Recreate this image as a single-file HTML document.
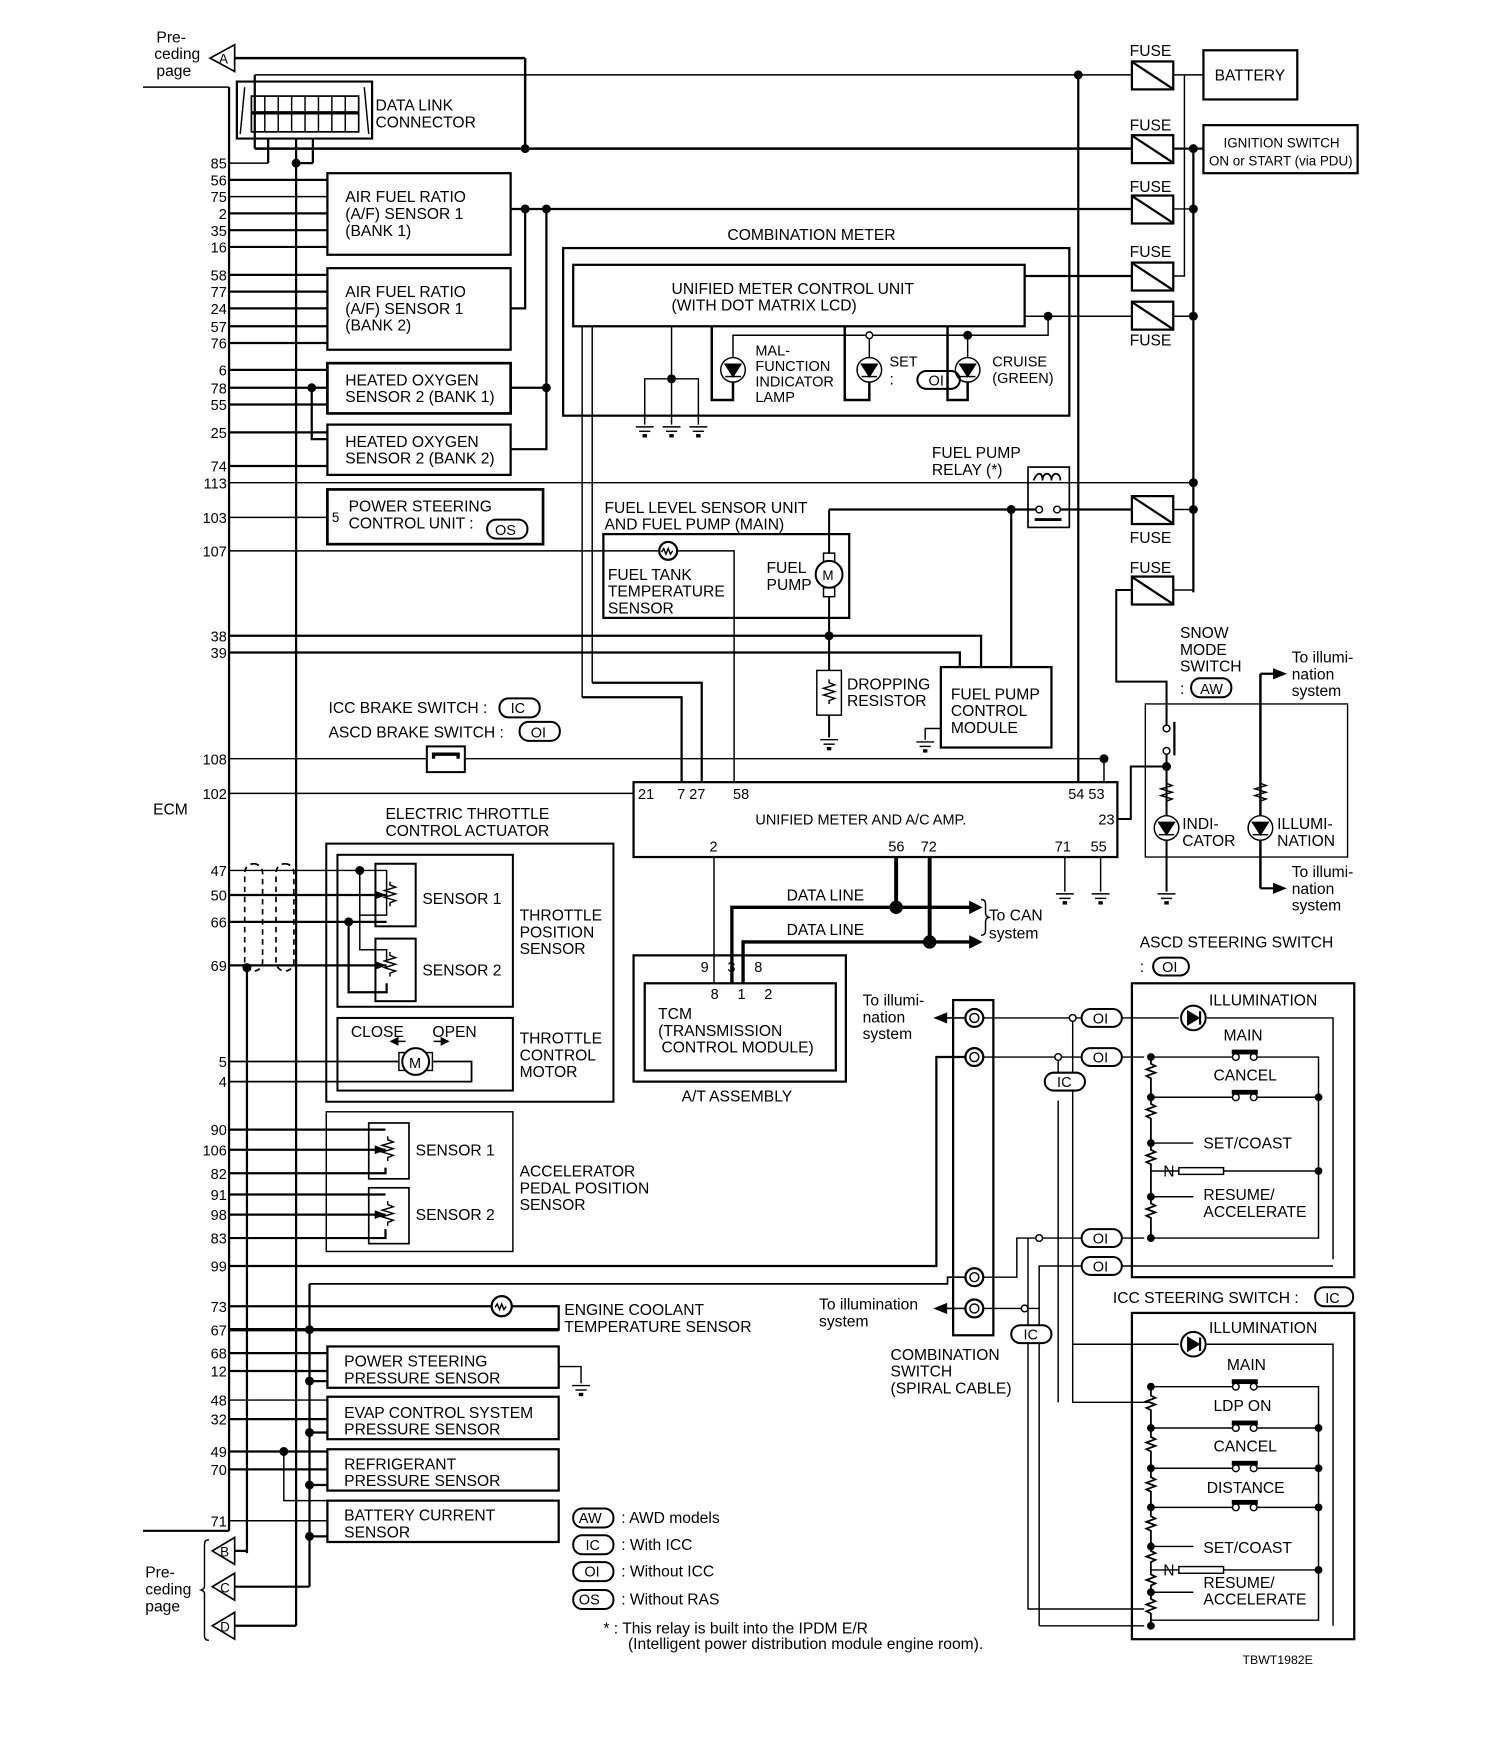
<!DOCTYPE html>
<html><head><meta charset="utf-8"><style>
html,body{margin:0;padding:0;background:#fff}
svg{display:block}
text{font-family:"Liberation Sans",sans-serif;fill:#000}
</style></head><body>
<svg width="1504" height="1742" viewBox="0 0 1346 1559" preserveAspectRatio="none" xmlns="http://www.w3.org/2000/svg">
<defs>
<g id="fuse"><rect x="0" y="0" width="37" height="25" fill="#fff" stroke="#000" stroke-width="2"/><line x1="1" y1="1" x2="36" y2="24" stroke="#000" stroke-width="2"/></g>
<g id="gnd"><line x1="-8" y1="0" x2="8" y2="0"/><line x1="-5" y1="4" x2="5" y2="4"/><line x1="-2" y1="8" x2="2" y2="8" stroke-width="3"/></g>
<g id="led"><circle r="11" fill="#fff"/><path d="M-7,-5 L7,-5 L0,6 Z" fill="#000"/><line x1="-7" y1="6" x2="7" y2="6"/></g>
<g id="res"><path d="M0,-12 l0,3 l5,2 l-10,3 l10,3 l-10,3 l10,3 l-5,2 l0,3" fill="none"/></g>
<g id="conn"><circle r="8" fill="#fff" stroke-width="2"/><circle r="4" fill="none"/></g>
</defs>
<g stroke="#000" stroke-width="1.3" fill="none" font-size="14">

<line x1="205" y1="78" x2="205" y2="1370" stroke-width="2"/>
<line x1="128" y1="78" x2="205" y2="78"/>
<line x1="128" y1="1370" x2="205" y2="1370" stroke-width="2"/>

<path d="M210,40 L188,52 L210,64 Z" stroke-width="1.5"/>
<line x1="210" y1="52" x2="470" y2="52" stroke-width="2.2"/>
<line x1="470" y1="52" x2="470" y2="133" stroke-width="2.2"/>

<path d="M212,73 L333,73 L333,124 L212,124 Z" stroke-width="2"/>
<line x1="219" y1="78" x2="215" y2="120"/><line x1="326" y1="78" x2="330" y2="120"/>
<rect x="225" y="86" width="96" height="32" stroke-width="1.5"/>
<line x1="225" y1="101" x2="321" y2="101" stroke-width="3"/>
<path d="M237,86 V118 M249,86 V118 M261,86 V118 M273,86 V118 M285,86 V118 M297,86 V118 M309,86 V118"/>
<line x1="228" y1="67" x2="1013" y2="67"/>
<line x1="228" y1="67" x2="228" y2="133" stroke-width="2"/>
<line x1="228" y1="133" x2="1013" y2="133" stroke-width="2.2"/>
<line x1="240" y1="124" x2="240" y2="146" stroke-width="2"/>
<line x1="205" y1="146" x2="240" y2="146"/>
<line x1="280" y1="124" x2="280" y2="146" stroke-width="2"/><line x1="265" y1="146" x2="280" y2="146" stroke-width="2"/>
<line x1="265" y1="124" x2="265" y2="1455" stroke-width="2"/>

<g stroke-width="2">
<path d="M205,161H293 M205,191H293 M205,206H293 M205,221H293 M205,246H293 M205,261H293 M205,276H293 M205,292H293 M205,307H293 M205,331H293 M205,347H293 M205,362H293 M205,387H293 M205,417H293"/>
</g>
<line x1="205" y1="176" x2="293" y2="176"/>
<path d="M279,347 V393 H293" stroke-width="2"/>
<line x1="205" y1="432" x2="1068" y2="432"/>
<line x1="205" y1="463" x2="293" y2="463"/>

<rect x="293" y="155" width="164" height="73" stroke-width="2"/>
<rect x="293" y="240" width="164" height="73" stroke-width="2"/>
<rect x="293" y="325" width="164" height="45" stroke-width="2.4"/>
<rect x="293" y="380" width="164" height="45" stroke-width="2"/>
<rect x="293" y="438" width="193" height="49" stroke-width="2.4"/>
<path d="M457,187 H1013 M470,187 V276 H457 M489,187 V402 H457 M457,347 H489" stroke-width="2"/>

<!-- combination meter -->
<rect x="504" y="222" width="453" height="150" stroke-width="2"/>
<rect x="513" y="237" width="404" height="55" stroke-width="2"/>
<path d="M917,247 H1013" stroke-width="2"/>
<path d="M917,283 H1013" />
<path d="M938,283 V300 H656 V320" />
<path d="M778,300 V320 M866,300 V320"/>
<path d="M637,292 V358 H656 V342" stroke-width="2.2"/>
<path d="M756,292 V358 H778 V342" stroke-width="2.2"/>
<path d="M848,292 V358 H866 V342" stroke-width="2.2"/>
<path d="M601,292 V380 M577,380 V339 H625 V380"/>
<use href="#gnd" x="577" y="382"/><use href="#gnd" x="601" y="382"/><use href="#gnd" x="625" y="382"/>
<line x1="521" y1="292" x2="521" y2="624"/><line x1="530" y1="292" x2="530" y2="611"/>
<use href="#led" x="656" y="331"/><use href="#led" x="778" y="331"/><use href="#led" x="866" y="331"/>

<line x1="965" y1="67" x2="965" y2="700" stroke-width="2"/>
<line x1="1068" y1="133" x2="1068" y2="530" stroke-width="2"/>
<line x1="1050" y1="67" x2="1077" y2="67"/>
<line x1="1050" y1="133" x2="1077" y2="133" stroke-width="2"/>
<path d="M1050,187 H1068 M1050,283 H1068 M1050,456 H1068 M1050,528 H1068 V530"/>
<path d="M1050,247 H1060 V67"/>
<use href="#fuse" x="1013" y="55"/><use href="#fuse" x="1013" y="121"/><use href="#fuse" x="1013" y="175"/><use href="#fuse" x="1013" y="235"/><use href="#fuse" x="1013" y="270"/><use href="#fuse" x="1013" y="444"/><use href="#fuse" x="1013" y="516"/>
<rect x="1077" y="45" width="84" height="44" stroke-width="2"/>
<rect x="1077" y="112" width="138" height="43" stroke-width="2"/>

<rect x="920" y="418" width="37" height="54" stroke-width="1.5"/>
<path d="M925,430 c3,-8 8,-8 8,0 c0,-8 8,-8 8,0 c0,-8 8,-8 8,0" stroke-width="1.5"/>
<path d="M742,456 H930 M946,456 H1013" stroke-width="2"/>
<circle cx="930" cy="456" r="3" fill="#fff"/><circle cx="946" cy="456" r="3" fill="#fff"/>
<line x1="926" y1="465" x2="950" y2="465" stroke-width="2.5"/>
<line x1="905" y1="456" x2="905" y2="597" stroke-width="2"/>

<rect x="540" y="478" width="220" height="75" stroke-width="2"/>
<path d="M205,493 H657 V700"/>
<circle cx="598" cy="493" r="8" fill="#fff" stroke-width="2"/>
<path d="M592,494 l2,-3 l2,5 l2,-5 l2,5 l2,-3"/>
<line x1="742" y1="456" x2="742" y2="660" stroke-width="1.8"/>
<rect x="737" y="495" width="10" height="8" fill="#fff"/><rect x="737" y="526" width="10" height="8" fill="#fff"/>
<circle cx="742" cy="514" r="12" fill="#fff" stroke-width="1.8"/>
<rect x="731" y="600" width="22" height="40" fill="#fff"/>
<use href="#res" x="742" y="620"/>
<use href="#gnd" x="742" y="662"/>
<path d="M205,569 H878 V597 M205,584 H859 V597" stroke-width="2"/>
<rect x="842" y="597" width="99" height="72" stroke-width="2"/>
<path d="M842,652 H828 V662"/><use href="#gnd" x="828" y="664"/>
<path d="M521,624 H610 V700 M530,611 H628 V700" stroke-width="2"/>

<line x1="205" y1="679" x2="988" y2="679"/>
<rect x="382" y="668" width="34" height="23" fill="#fff" stroke-width="1.8"/>
<path d="M388,679 V675 H410 V679" stroke-width="3"/>
<line x1="205" y1="710" x2="567" y2="710"/>
<line x1="988" y1="679" x2="988" y2="700"/>

<rect x="567" y="700" width="433" height="67" stroke-width="2"/>
<path d="M1000,733 H1012 V686 H1044" stroke-width="1.8"/>
<path d="M953,767 V798 M985,767 V798"/>
<use href="#gnd" x="953" y="800"/><use href="#gnd" x="985" y="800"/>
<line x1="639" y1="767" x2="639" y2="880"/>
<path d="M802,767 V812 M832,767 V843" stroke-width="3.5"/>
<path d="M655,880 V812 H868 M665,880 V843 H868" stroke-width="3"/>
<path d="M868,807 L878,812 L868,817 Z M868,838 L878,843 L868,848 Z" fill="#000"/>
<path d="M878,805 q4,0 4,4 v8 q0,3 3,4 q-3,1 -3,4 v8 q0,4 -4,4"/>

<rect x="567" y="855" width="190" height="113" stroke-width="2"/>
<rect x="577" y="880" width="171" height="78" stroke-width="2"/>

<path d="M1013,528 H999 V610 H1044 V650" stroke-width="1.8"/>
<rect x="1025" y="630" width="181" height="137" stroke-width="1.2"/>
<circle cx="1044" cy="652" r="3" fill="#fff"/><circle cx="1044" cy="672" r="3" fill="#fff"/>
<line x1="1051" y1="646" x2="1051" y2="676" stroke-width="2"/>
<path d="M1044,675 V730 M1044,752 V798" stroke-width="1.8"/>
<use href="#res" x="1044" y="710"/>
<use href="#led" x="1044" y="741"/>
<use href="#gnd" x="1044" y="800"/>
<path d="M1128,603 V730 M1128,752 V795" stroke-width="2.2"/>
<use href="#res" x="1128" y="710"/>
<use href="#led" x="1128" y="741"/>
<path d="M1128,603 H1142 M1128,795 H1142" stroke-width="2"/>
<path d="M1140,599 L1150,603 L1140,607 Z M1140,791 L1150,795 L1140,799 Z" fill="#000"/>

<rect x="292" y="755" width="257" height="231" stroke-width="1.8"/>
<rect x="302" y="765" width="157" height="136" stroke-width="1.8"/>
<rect x="302" y="911" width="157" height="65" stroke-width="1.8"/>
<rect x="336" y="773" width="36" height="56" stroke-width="1.8"/>
<rect x="336" y="840" width="36" height="56" stroke-width="1.8"/>
<path d="M205,779 H346 V819 H322 V779" />
<path d="M322,779 V850 H346 V860"/>
<path d="M205,801 H346" stroke-width="2"/>
<path d="M205,825 H346 M312,825 V888 H346 V880" stroke-width="2"/>
<path d="M205,864 H346" stroke-width="2"/>
<use href="#res" x="349" y="801"/><use href="#res" x="349" y="864"/>
<path d="M336,798 l8,3 l-8,3 Z M336,861 l8,3 l-8,3Z" fill="#000"/>
<rect x="219" y="773" width="16" height="96" rx="8" stroke-dasharray="5,4" stroke-width="1.5"/>
<rect x="247" y="773" width="16" height="96" rx="8" stroke-dasharray="5,4" stroke-width="1.5"/>
<line x1="221" y1="866" x2="221" y2="1390" stroke-width="2"/>
<path d="M205,950 H357 M387,950 H422 V968 H205" stroke-width="1.6"/>
<rect x="357" y="942" width="30" height="16" fill="#fff"/>
<circle cx="372" cy="950" r="12" fill="#fff" stroke-width="1.8"/>
<path d="M353,932 h10 M388,932 h10"/><path d="M350,932 l6,-3 v6Z M401,932 l-6,-3 v6Z" fill="#000"/>

<rect x="292" y="995" width="167" height="125"/>
<rect x="330" y="1005" width="36" height="50" stroke-width="1.5"/>
<rect x="330" y="1063" width="36" height="50" stroke-width="1.5"/>
<path d="M205,1011 H345 M205,1029 H345 M205,1050 H345 V1045 M205,1069 H345 M205,1087 H345 M205,1108 H345 V1100" stroke-width="2"/>
<use href="#res" x="347" y="1029"/><use href="#res" x="347" y="1087"/>
<path d="M336,1026 l8,3 l-8,3Z M336,1084 l8,3 l-8,3Z" fill="#000"/>

<path d="M205,1133 H838 V946 H864" stroke-width="2"/>
<path d="M277,1149 H848 V1143 H864" stroke-width="1.5"/>
<line x1="277" y1="1149" x2="277" y2="1420" stroke-width="2"/>
<path d="M205,1169 H440 M458,1169 H500 V1190 H205" stroke-width="2"/>
<line x1="205" y1="1190" x2="500" y2="1190" stroke-width="3"/>
<circle cx="449" cy="1169" r="9" fill="#fff" stroke-width="2"/>
<path d="M443,1170 l2,-3 l2,5 l2,-5 l2,5 l2,-3"/>
<path d="M205,1211 H293 M205,1227 H293 M205,1270 H293 M205,1299 H293 M205,1315 H293" stroke-width="2"/>
<path d="M205,1253 H293 M205,1361 H293"/>
<path d="M277,1236 H293 M277,1282 H293 M277,1329 H293 M277,1375 H293" stroke-width="2"/>
<path d="M254,1299 V1343 H293"/>
<rect x="293" y="1205" width="207" height="37" stroke-width="2"/>
<rect x="293" y="1250" width="207" height="38" stroke-width="2"/>
<rect x="293" y="1297" width="207" height="37" stroke-width="2"/>
<rect x="293" y="1343" width="207" height="37" stroke-width="2"/>
<path d="M500,1223 H520 V1238"/><use href="#gnd" x="520" y="1240"/>

<path d="M210,1376 L190,1388 L210,1400 Z M210,1408 L190,1420 L210,1432 Z M210,1443 L190,1455 L210,1467 Z" stroke-width="1.5"/>
<path d="M210,1388 H221 M210,1420 H277 M210,1455 H265" stroke-width="2"/>
<path d="M187,1378 q-4,0 -4,4 v38 q0,2 -3,3 q3,1 3,3 v38 q0,4 4,4"/>

<rect x="853" y="895" width="36" height="300" stroke-width="2"/>
<use href="#conn" x="872" y="911"/><use href="#conn" x="872" y="946"/><use href="#conn" x="872" y="1143"/><use href="#conn" x="872" y="1171"/>
<path d="M864,911 H845 M864,1171 H845" stroke-width="1.5"/>
<path d="M847,907 L837,911 L847,915 Z M847,1167 L837,1171 L847,1175 Z" fill="#000"/>
<path d="M880,911 H968 M1004,911 H1055 M1080,911 H1193 V1127 M880,946 H968 M1004,946 H1024 M880,1143 H910 V1108 H968 M1004,1108 H1024 M880,1171 H930 V1133 H968 M1004,1133 H1193 M930,1171 V1455 M1024,1455 H930"/>
<path d="M960,911 V1255 H1030 M947,946 V975 M947,985 V1255 M920,1108 V1187 M920,1200 V1440 H1024"/>
<rect x="968" y="903" width="36" height="16" rx="8" stroke-width="1.8" fill="#fff"/>
<rect x="968" y="938" width="36" height="16" rx="8" stroke-width="1.8" fill="#fff"/>
<rect x="968" y="1100" width="36" height="16" rx="8" stroke-width="1.8" fill="#fff"/>
<rect x="968" y="1125" width="36" height="16" rx="8" stroke-width="1.8" fill="#fff"/>
<rect x="935" y="960" width="36" height="16" rx="8" stroke-width="1.8" fill="#fff"/>
<rect x="905" y="1186" width="36" height="16" rx="8" stroke-width="1.8" fill="#fff"/>
<circle cx="960" cy="911" r="3" fill="#fff"/><circle cx="947" cy="946" r="3" fill="#fff"/><circle cx="930" cy="1108" r="3" fill="#fff"/><circle cx="917" cy="1171" r="3" fill="#fff"/>

<rect x="1013" y="880" width="199" height="263" stroke-width="2"/>
<circle cx="1068" cy="911" r="11" fill="#fff" stroke-width="1.8"/><path d="M1063,905 V917 L1073,911 Z" fill="#000"/><line x1="1074" y1="905" x2="1074" y2="917" stroke-width="2"/>
<path d="M1030,946 H1103 M1125,946 H1180 V1108 H1030 M1030,982 H1103 M1125,982 H1180 M1030,1023 H1068 M1030,1048 H1055 M1095,1048 H1180 M1030,1071 H1068"/>
<path d="M1030,946 l0,6 l4,2 l-8,3 l8,3 l-8,3 l4,2 V982 l0,6 l4,2 l-8,3 l8,3 l-8,3 l4,2 V1023 l0,6 l4,2 l-8,3 l8,3 l-8,3 l4,2 V1071 l0,6 l4,2 l-8,3 l8,3 l-8,3 l4,2 V1108" stroke-width="1.6"/>
<rect x="1103" y="940" width="22" height="3" fill="#000"/><rect x="1103" y="976" width="22" height="3" fill="#000"/>
<circle cx="1106" cy="946" r="3" fill="#fff"/><circle cx="1122" cy="946" r="3" fill="#fff"/><circle cx="1106" cy="982" r="3" fill="#fff"/><circle cx="1122" cy="982" r="3" fill="#fff"/>
<rect x="1055" y="1045" width="40" height="6" fill="#fff"/>

<rect x="1013" y="1175" width="199" height="292" stroke-width="2"/>
<circle cx="1068" cy="1203" r="11" fill="#fff" stroke-width="1.8"/><path d="M1063,1197 V1209 L1073,1203 Z" fill="#000"/><line x1="1074" y1="1197" x2="1074" y2="1209" stroke-width="2"/>
<path d="M960,1203 H1055 M1080,1203 H1193 V1455"/>
<path d="M1030,1241 H1103 M1125,1241 H1180 V1450 H1030 M1030,1278 H1103 M1125,1278 H1180 M1030,1314 H1103 M1125,1314 H1180 M1030,1349 H1103 M1125,1349 H1180 M1030,1384 H1068 M1030,1405 H1055 M1095,1405 H1180 M1030,1425 H1068"/>
<path d="M1030,1241 l0,8 l4,2 l-8,3 l8,3 l-8,3 l4,2 V1278 l0,8 l4,2 l-8,3 l8,3 l-8,3 l4,2 V1314 l0,8 l4,2 l-8,3 l8,3 l-8,3 l4,2 V1349 l0,8 l4,2 l-8,3 l8,3 l-8,3 l4,2 V1384 l0,4 l4,2 l-8,3 l8,3 l-4,2 V1405 l0,4 l4,2 l-8,3 l8,3 l-4,2 V1425 l0,6 l4,2 l-8,3 l8,3 l-8,3 l4,2 V1455" stroke-width="1.6"/>
<rect x="1103" y="1235" width="22" height="3" fill="#000"/><rect x="1103" y="1272" width="22" height="3" fill="#000"/><rect x="1103" y="1308" width="22" height="3" fill="#000"/><rect x="1103" y="1343" width="22" height="3" fill="#000"/>
<circle cx="1106" cy="1241" r="3" fill="#fff"/><circle cx="1122" cy="1241" r="3" fill="#fff"/><circle cx="1106" cy="1278" r="3" fill="#fff"/><circle cx="1122" cy="1278" r="3" fill="#fff"/><circle cx="1106" cy="1314" r="3" fill="#fff"/><circle cx="1122" cy="1314" r="3" fill="#fff"/><circle cx="1106" cy="1349" r="3" fill="#fff"/><circle cx="1122" cy="1349" r="3" fill="#fff"/>
<rect x="1055" y="1402" width="40" height="6" fill="#fff"/>

<rect x="821" y="332" width="38" height="16" rx="8" stroke-width="1.8"/>
<rect x="436" y="465" width="36" height="17" rx="8" stroke-width="1.8"/>
<rect x="447" y="625" width="36" height="17" rx="8" stroke-width="1.8"/>
<rect x="465" y="646" width="36" height="17" rx="8" stroke-width="1.8"/>
<rect x="1066" y="607" width="36" height="17" rx="8" stroke-width="1.8"/>
<rect x="1032" y="857" width="32" height="16" rx="8" stroke-width="1.8"/>
<rect x="1177" y="1152" width="34" height="17" rx="8" stroke-width="1.8"/>
<rect x="513" y="1350" width="36" height="17" rx="8" stroke-width="1.8"/>
<rect x="513" y="1374" width="36" height="17" rx="8" stroke-width="1.8"/>
<rect x="513" y="1398" width="36" height="17" rx="8" stroke-width="1.8"/>
<rect x="513" y="1423" width="36" height="17" rx="8" stroke-width="1.8"/>
</g>

<g fill="#000">
<circle cx="470" cy="133" r="4"/><circle cx="265" cy="146" r="4"/><circle cx="470" cy="187" r="4"/><circle cx="489" cy="187" r="4"/><circle cx="489" cy="347" r="4"/><circle cx="279" cy="347" r="4"/>
<circle cx="965" cy="67" r="4"/><circle cx="1068" cy="133" r="4"/><circle cx="1068" cy="187" r="4"/><circle cx="1068" cy="283" r="4"/><circle cx="1068" cy="432" r="4"/><circle cx="1068" cy="456" r="4"/>
<circle cx="938" cy="283" r="4"/><circle cx="866" cy="300" r="4"/><circle cx="601" cy="339" r="4"/>
<circle cx="905" cy="456" r="4"/><circle cx="742" cy="569" r="4"/><circle cx="988" cy="679" r="4"/><circle cx="1044" cy="686" r="4"/>
<circle cx="802" cy="812" r="6"/><circle cx="832" cy="843" r="6"/>
<circle cx="322" cy="779" r="4"/><circle cx="312" cy="825" r="4"/><circle cx="221" cy="866" r="4"/>
<circle cx="277" cy="1190" r="4"/><circle cx="277" cy="1236" r="4"/><circle cx="277" cy="1282" r="4"/><circle cx="277" cy="1329" r="4"/><circle cx="277" cy="1375" r="4"/><circle cx="254" cy="1299" r="4"/>
<circle cx="1030" cy="946" r="3.5"/><circle cx="1030" cy="982" r="3.5"/><circle cx="1180" cy="982" r="3.5"/><circle cx="1030" cy="1023" r="3.5"/><circle cx="1180" cy="1048" r="3.5"/><circle cx="1030" cy="1071" r="3.5"/><circle cx="1030" cy="1108" r="3.5"/>
<circle cx="1030" cy="1241" r="3.5"/><circle cx="1030" cy="1278" r="3.5"/><circle cx="1180" cy="1278" r="3.5"/><circle cx="1030" cy="1314" r="3.5"/><circle cx="1180" cy="1314" r="3.5"/><circle cx="1030" cy="1349" r="3.5"/><circle cx="1180" cy="1349" r="3.5"/><circle cx="1030" cy="1384" r="3.5"/><circle cx="1180" cy="1405" r="3.5"/><circle cx="1030" cy="1425" r="3.5"/><circle cx="1030" cy="1455" r="3.5"/>
</g>
<circle cx="778" cy="300" r="3" fill="#fff" stroke="#000" stroke-width="1.3"/>

<g font-size="13" text-anchor="end">
<text x="203" y="151">85</text><text x="203" y="166">56</text><text x="203" y="181">75</text><text x="203" y="196">2</text><text x="203" y="211">35</text><text x="203" y="226">16</text>
<text x="203" y="251">58</text><text x="203" y="266">77</text><text x="203" y="281">24</text><text x="203" y="297">57</text><text x="203" y="312">76</text>
<text x="203" y="336">6</text><text x="203" y="352">78</text><text x="203" y="367">55</text><text x="203" y="392">25</text><text x="203" y="422">74</text><text x="203" y="437">113</text>
<text x="203" y="468">103</text><text x="203" y="498">107</text><text x="203" y="574">38</text><text x="203" y="589">39</text><text x="203" y="684">108</text><text x="203" y="715">102</text>
<text x="203" y="784">47</text><text x="203" y="806">50</text><text x="203" y="830">66</text><text x="203" y="869">69</text><text x="203" y="955">5</text><text x="203" y="973">4</text>
<text x="203" y="1016">90</text><text x="203" y="1034">106</text><text x="203" y="1055">82</text><text x="203" y="1074">91</text><text x="203" y="1092">98</text><text x="203" y="1113">83</text><text x="203" y="1138">99</text>
<text x="203" y="1174">73</text><text x="203" y="1195">67</text><text x="203" y="1216">68</text><text x="203" y="1232">12</text><text x="203" y="1258">48</text><text x="203" y="1275">32</text><text x="203" y="1304">49</text><text x="203" y="1320">70</text><text x="203" y="1366">71</text>
</g>

<g font-size="14">
<text x="140" y="38">Pre-</text><text x="138" y="53">ceding</text><text x="140" y="68">page</text>
<text x="196" y="57" font-size="12">A</text>
<text x="197" y="1393" font-size="12">B</text><text x="197" y="1425" font-size="12">C</text><text x="197" y="1460" font-size="12">D</text>
<text x="130" y="1412">Pre-</text><text x="130" y="1427">ceding</text><text x="130" y="1442">page</text>
<text x="137" y="729">ECM</text>
<text x="336" y="99">DATA LINK</text><text x="336" y="114">CONNECTOR</text>
<text x="309" y="181">AIR FUEL RATIO</text><text x="309" y="196">(A/F) SENSOR 1</text><text x="309" y="211">(BANK 1)</text>
<text x="309" y="266">AIR FUEL RATIO</text><text x="309" y="281">(A/F) SENSOR 1</text><text x="309" y="296">(BANK 2)</text>
<text x="309" y="345">HEATED OXYGEN</text><text x="309" y="360">SENSOR 2 (BANK 1)</text>
<text x="309" y="400">HEATED OXYGEN</text><text x="309" y="415">SENSOR 2 (BANK 2)</text>
<text x="297" y="467" font-size="12">5</text><text x="312" y="458">POWER STEERING</text><text x="312" y="473">CONTROL UNIT :</text><text x="443" y="479" font-size="13">OS</text>
<text x="651" y="215">COMBINATION METER</text>
<text x="601" y="263">UNIFIED METER CONTROL UNIT</text><text x="601" y="278">(WITH DOT MATRIX LCD)</text>
<text x="676" y="318" font-size="13">MAL-</text><text x="676" y="332" font-size="13">FUNCTION</text><text x="676" y="346" font-size="13">INDICATOR</text><text x="676" y="360" font-size="13">LAMP</text>
<text x="796" y="328" font-size="13">SET</text><text x="796" y="344">:</text><text x="831" y="345" font-size="13">OI</text>
<text x="888" y="328" font-size="13">CRUISE</text><text x="888" y="343" font-size="13">(GREEN)</text>
<text x="1011" y="50">FUSE</text><text x="1011" y="117">FUSE</text><text x="1011" y="172">FUSE</text><text x="1011" y="230">FUSE</text><text x="1011" y="309">FUSE</text><text x="1011" y="486">FUSE</text><text x="1011" y="513">FUSE</text>
<text x="1087" y="72">BATTERY</text>
<text x="1095" y="132" font-size="12">IGNITION SWITCH</text><text x="1082" y="148" font-size="12">ON or START (via PDU)</text>
<text x="834" y="410">FUEL PUMP</text><text x="834" y="425">RELAY (*)</text>
<text x="541" y="459">FUEL LEVEL SENSOR UNIT</text><text x="541" y="474">AND FUEL PUMP (MAIN)</text>
<text x="544" y="519">FUEL TANK</text><text x="544" y="534">TEMPERATURE</text><text x="544" y="549">SENSOR</text>
<text x="686" y="513">FUEL</text><text x="686" y="528">PUMP</text><text x="736" y="519" font-size="12">M</text>
<text x="758" y="617">DROPPING</text><text x="758" y="632">RESISTOR</text>
<text x="851" y="626">FUEL PUMP</text><text x="851" y="641">CONTROL</text><text x="851" y="656">MODULE</text>
<text x="294" y="638">ICC BRAKE SWITCH :</text><text x="457" y="638" font-size="13">IC</text>
<text x="294" y="660">ASCD BRAKE SWITCH :</text><text x="475" y="660" font-size="13">OI</text>
<g font-size="13"><text x="571" y="715">21</text><text x="606" y="715">7 27</text><text x="656" y="715">58</text><text x="956" y="715">54 53</text><text x="983" y="738">23</text>
<text x="635" y="762">2</text><text x="795" y="762">56</text><text x="824" y="762">72</text><text x="944" y="762">71</text><text x="976" y="762">55</text></g>
<text x="676" y="738" font-size="13">UNIFIED METER AND A/C AMP.</text>
<text x="704" y="806">DATA LINE</text><text x="704" y="837">DATA LINE</text>
<text x="885" y="824">To CAN</text><text x="885" y="840">system</text>
<g font-size="13"><text x="627" y="870">9</text><text x="651" y="870">3</text><text x="675" y="870">8</text><text x="636" y="894">8</text><text x="660" y="894">1</text><text x="684" y="894">2</text></g>
<text x="589" y="912">TCM</text><text x="589" y="927">(TRANSMISSION</text><text x="592" y="942">CONTROL MODULE)</text>
<text x="610" y="986">A/T ASSEMBLY</text>
<text x="1056" y="571">SNOW</text><text x="1056" y="586">MODE</text><text x="1056" y="601">SWITCH</text><text x="1056" y="621">:</text><text x="1074" y="621" font-size="13">AW</text>
<text x="1156" y="593">To illumi-</text><text x="1156" y="608">nation</text><text x="1156" y="623">system</text>
<text x="1058" y="742">INDI-</text><text x="1058" y="757">CATOR</text><text x="1143" y="742">ILLUMI-</text><text x="1143" y="757">NATION</text>
<text x="1156" y="785">To illumi-</text><text x="1156" y="800">nation</text><text x="1156" y="815">system</text>
<text x="345" y="733">ELECTRIC THROTTLE</text><text x="345" y="748">CONTROL ACTUATOR</text>
<text x="378" y="809">SENSOR 1</text><text x="378" y="873">SENSOR 2</text>
<text x="465" y="824">THROTTLE</text><text x="465" y="839">POSITION</text><text x="465" y="854">SENSOR</text>
<text x="314" y="928">CLOSE</text><text x="387" y="928">OPEN</text><text x="366" y="956" font-size="13">M</text>
<text x="465" y="934">THROTTLE</text><text x="465" y="949">CONTROL</text><text x="465" y="964">MOTOR</text>
<text x="372" y="1034">SENSOR 1</text><text x="372" y="1092">SENSOR 2</text>
<text x="465" y="1053">ACCELERATOR</text><text x="465" y="1068">PEDAL POSITION</text><text x="465" y="1083">SENSOR</text>
<text x="505" y="1177">ENGINE COOLANT</text><text x="505" y="1192">TEMPERATURE SENSOR</text>
<text x="308" y="1223">POWER STEERING</text><text x="308" y="1238">PRESSURE SENSOR</text>
<text x="308" y="1269">EVAP CONTROL SYSTEM</text><text x="308" y="1284">PRESSURE SENSOR</text>
<text x="308" y="1315">REFRIGERANT</text><text x="308" y="1330">PRESSURE SENSOR</text>
<text x="308" y="1361">BATTERY CURRENT</text><text x="308" y="1376">SENSOR</text>
<text x="518" y="1363" font-size="13">AW</text><text x="556" y="1363">: AWD models</text>
<text x="524" y="1387" font-size="13">IC</text><text x="556" y="1387">: With ICC</text>
<text x="523" y="1411" font-size="13">OI</text><text x="556" y="1411">: Without ICC</text>
<text x="518" y="1436" font-size="13">OS</text><text x="556" y="1436">: Without RAS</text>
<text x="540" y="1462">* : This relay is built into the IPDM E/R</text>
<text x="562" y="1476">(Intelligent power distribution module engine room).</text>
<text x="772" y="900">To illumi-</text><text x="772" y="915">nation</text><text x="772" y="930">system</text>
<text x="733" y="1172">To illumination</text><text x="733" y="1187">system</text>
<text x="797" y="1217">COMBINATION</text><text x="797" y="1232">SWITCH</text><text x="797" y="1247">(SPIRAL CABLE)</text>
<g font-size="13"><text x="978" y="916">OI</text><text x="978" y="951">OI</text><text x="978" y="1113">OI</text><text x="978" y="1138">OI</text><text x="946" y="973">IC</text><text x="916" y="1199">IC</text></g>
<text x="1020" y="848">ASCD STEERING SWITCH</text><text x="1020" y="870">:</text><text x="1040" y="870" font-size="13">OI</text>
<text x="1082" y="900">ILLUMINATION</text><text x="1095" y="931">MAIN</text><text x="1086" y="967">CANCEL</text><text x="1077" y="1028">SET/COAST</text><text x="1041" y="1053">N</text><text x="1077" y="1074">RESUME/</text><text x="1077" y="1089">ACCELERATE</text>
<text x="996" y="1166">ICC STEERING SWITCH :</text><text x="1186" y="1166" font-size="13">IC</text>
<text x="1082" y="1193">ILLUMINATION</text><text x="1098" y="1226">MAIN</text><text x="1086" y="1263">LDP ON</text><text x="1086" y="1299">CANCEL</text><text x="1080" y="1336">DISTANCE</text><text x="1077" y="1390">SET/COAST</text><text x="1041" y="1410">N</text><text x="1077" y="1421">RESUME/</text><text x="1077" y="1436">ACCELERATE</text>
<text x="1112" y="1489" font-size="11">TBWT1982E</text>
</g>
</svg>
</body></html>
